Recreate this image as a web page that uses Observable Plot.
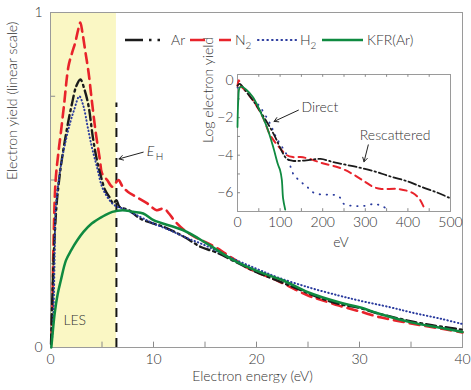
<!DOCTYPE html>
<html><head><meta charset="utf-8">
<script src="https://cdn.jsdelivr.net/npm/d3@7"></script>
<script src="https://cdn.jsdelivr.net/npm/@observablehq/plot@0.6"></script>
<style>
body{margin:0;background:#fff;}
#chart{position:relative;width:471px;height:390px;font-family:Lato,"Open Sans",sans-serif;}
#chart svg{position:absolute;left:0;top:0;overflow:visible;}
#chart svg text{font-weight:300;}
</style></head><body><div id="chart"></div>
<script>
// ---------- main panel data (linear yield vs eV) ----------
const arE = [0.05,0.2,0.4,0.6,0.8,1.0,1.3,1.7,2.1,2.5,2.9,3.3,3.7,4.1,4.5,4.9,5.3,5.7,6.1,6.4,6.7,7.6,8.7,10,11,13,14.6,16,18,20,22,24,26,28,30,32,34,36,38,40];
const arY = [0.01,0.17,0.33,0.43,0.49,0.54,0.6,0.67,0.73,0.78,0.80,0.77,0.72,0.63,0.56,0.51,0.47,0.45,0.43,0.44,0.42,0.41,0.385,0.37,0.36,0.33,0.30,0.285,0.255,0.225,0.2,0.175,0.15,0.13,0.118,0.1,0.085,0.072,0.062,0.053];
const n2E = [0.1,0.2,0.3,0.5,0.8,1.0,1.3,1.75,2.1,2.4,2.7,2.9,3.1,3.4,3.7,4.0,4.4,4.8,5.0,5.5,6.0,6.3,6.6,7.0,7.5,8.3,9.4,10.3,11,11.5,12,13,14,16,17,18,19,20,22,23,25,26,28,30,32,34,36,38,40];
const n2Y = [0.02,0.14,0.32,0.5,0.59,0.64,0.72,0.84,0.88,0.91,0.95,0.97,0.94,0.88,0.82,0.74,0.64,0.56,0.52,0.50,0.48,0.49,0.5,0.48,0.465,0.45,0.43,0.41,0.415,0.40,0.38,0.35,0.33,0.30,0.28,0.26,0.24,0.225,0.2,0.185,0.155,0.145,0.125,0.108,0.09,0.078,0.066,0.056,0.045];
const h2E = [0.15,0.3,0.4,0.5,0.8,1.1,1.5,1.9,2.3,2.8,3.2,3.6,4.0,4.5,5.0,5.5,6.0,6.5,7.0,8.7,10,11.6,13,15,17,20,22,25,28,30,33,35,38,40];
const h2Y = [0.02,0.12,0.27,0.41,0.5,0.56,0.62,0.67,0.71,0.75,0.72,0.66,0.6,0.54,0.48,0.45,0.43,0.42,0.415,0.39,0.37,0.35,0.33,0.305,0.275,0.235,0.21,0.18,0.155,0.14,0.12,0.105,0.085,0.07];
const kfrE = [0.08,0.2,0.4,0.7,1.0,1.5,2.0,2.6,3.2,4.0,5.0,6.0,7.0,8.0,9.0,10,12.9,15.2,17.8,20.4,22.6,25,28,30,32,35,38,40];
const kfrY = [0.0,0.04,0.1,0.16,0.2,0.26,0.29,0.32,0.345,0.37,0.39,0.405,0.41,0.405,0.40,0.38,0.35,0.31,0.26,0.224,0.2,0.165,0.135,0.12,0.1,0.075,0.058,0.046];
const lesRange = [0, 6.4];
const eH = 6.4, eHTop = 0.73;
const xMinor = [5,10,15,20,25,30,35];
const xLabels = [0,10,20,30,40];
const yMinor = [0.25,0.5,0.75];
const yLabels = [0,1];

// ---------- inset data (log10 yield vs eV) ----------
const inArE = [0,5,20,40,60,76,90,100,116,130,148,170,195,230,274,320,354,400,433,470,500];
const inArL = [-0.3,-0.2,-0.6,-1.2,-1.9,-2.5,-3.1,-3.6,-4.2,-4.3,-4.3,-4.25,-4.2,-4.4,-4.6,-4.85,-5.1,-5.4,-5.7,-6.0,-6.3];
const inN2E = [0,3,8,20,40,60,76,95,116,130,148,170,195,243,270,298,320,338,378,410,426,438];
const inN2L = [-0.3,0,-0.3,-0.6,-1.2,-2.0,-2.9,-3.5,-4.0,-4.1,-4.1,-4.2,-4.4,-4.7,-5.0,-5.4,-5.7,-5.8,-5.8,-6.0,-6.3,-6.8];
const inH2E = [0,10,20,36,52,76,92,116,131,148,164,179,200,219,238,250,274,298,321,338,354];
const inH2L = [-0.4,-0.4,-0.6,-1,-1.4,-2.3,-3.1,-4.0,-5.0,-5.4,-5.7,-6.0,-6.1,-6.1,-6.2,-6.6,-6.7,-6.7,-6.6,-6.7,-6.9];
const inKfrE = [0,2,5,10,20,36,52,69,83,95,100,104,107,112];
const inKfrL = [-2.5,-1.0,-0.4,-0.35,-0.5,-0.9,-1.6,-2.5,-3.5,-4.5,-4.8,-5.3,-6.3,-6.9];
const inXLabels = [0,100,200,300,400,500];
const inXMinor = [50,100,150,200,250,300,350,400,450];
const inYLabels = [0,-2,-4,-6];
const inYMinor = [-1,-2,-3,-4,-5,-6];

const colors = {ar:"#1b1b1b", n2:"#e8232b", h2:"#2a3b9e", kfr:"#0f8a40"};
const pts = (E, Y) => E.map((e, i) => ({e, v: Y[i]}));
const font = "Lato, 'Open Sans', sans-serif";
const ink = "#333";

const main = Plot.plot({
  width: 471, height: 390,
  marginLeft: 50, marginRight: 9, marginTop: 12, marginBottom: 43,
  style: {fontFamily: font, fontSize: "14px", color: ink, background: "transparent"},
  x: {domain: [0, 40]}, y: {domain: [0, 1]},
  marks: [
    Plot.rect([lesRange], {x1: d => d[0], x2: d => d[1], y1: 0, y2: 1, fill: "#faf7c4"}),
    Plot.ruleX(xMinor, {x: d => d, y1: 0, y2: 0.016, stroke: "#8a8a8a"}),
    Plot.ruleY(yMinor, {y: d => d, x1: 0, x2: 0.5, stroke: "#8a8a8a"}),
    Plot.axisX({ticks: xLabels, tickSize: 0, tickPadding: 7, label: null, fontSize: 14}),
    Plot.axisY({ticks: yLabels, tickSize: 0, tickPadding: 8, tickFormat: d => String(d), label: null, fontSize: 14}),
    Plot.frame({stroke: "#9a9a9a"}),
    Plot.text(["Electron yield (linear scale)"], {frameAnchor: "left", dx: -38, rotate: -90, text: d => d, fontSize: 14, fill: ink}),
    Plot.text(["Electron energy (eV)"], {frameAnchor: "bottom", dy: 33, dx: -4, text: d => d, fontSize: 14, fill: ink}),
    Plot.ruleX([eH], {x: d => d, y1: 0, y2: eHTop, stroke: "#151515", strokeWidth: 2, strokeDasharray: "9,6"}),
    Plot.line(pts(n2E, n2Y), {x: "e", y: "v", stroke: colors.n2, strokeWidth: 2.6, strokeDasharray: "10,6", curve: "catmull-rom"}),
    Plot.line(pts(arE, arY), {x: "e", y: "v", stroke: colors.ar, strokeWidth: 2.4, strokeDasharray: "10,4,2,4", curve: "catmull-rom"}),
    Plot.line(pts(h2E, h2Y), {x: "e", y: "v", stroke: colors.h2, strokeWidth: 2, strokeDasharray: "0.5,3", strokeLinecap: "round", curve: "catmull-rom"}),
    Plot.line(pts(kfrE, kfrY), {x: "e", y: "v", stroke: colors.kfr, strokeWidth: 2.5, curve: "catmull-rom"}),
    Plot.arrow([{x1: 9.0, y1: 0.583, x2: 6.65, y2: 0.563}], {x1: "x1", y1: "y1", x2: "x2", y2: "y2", stroke: "#222", strokeWidth: 1, headLength: 7}),
    Plot.text([{x: 9.35, y: 0.585}], {x: "x", y: "y", text: () => "E", fontStyle: "italic", textAnchor: "start", fontSize: 14, fill: "#222"}),
    Plot.text([{x: 9.35, y: 0.585}], {x: "x", y: "y", text: () => "H", textAnchor: "start", dx: 9, dy: 5, fontSize: 10, fill: "#222"}),
    Plot.text([{x: 1.25, y: 0.08}], {x: "x", y: "y", text: () => "LES", textAnchor: "start", fontSize: 14, fill: ink})
  ]
});

const inset = Plot.plot({
  width: 471, height: 390,
  marginLeft: 237, marginRight: 21, marginTop: 74, marginBottom: 179,
  style: {fontFamily: font, fontSize: "14px", color: ink, background: "transparent"},
  x: {domain: [0, 500]}, y: {domain: [-7, 0.3]},
  marks: [
    Plot.frame({fill: "white", stroke: "#9a9a9a"}),
    Plot.ruleX(inXMinor, {x: d => d, y1: -7, y2: -6.85, stroke: "#8a8a8a"}),
    Plot.ruleX(inXMinor, {x: d => d, y1: 0.3, y2: 0.15, stroke: "#8a8a8a"}),
    Plot.ruleY(inYMinor, {y: d => d, x1: 0, x2: 7, stroke: "#8a8a8a"}),
    Plot.axisX({ticks: inXLabels, tickSize: 0, tickPadding: 6, label: null, fontSize: 14}),
    Plot.axisY({ticks: inYLabels, tickSize: 0, tickPadding: 4, label: null, fontSize: 14}),
    Plot.text(["Log electron yield"], {frameAnchor: "left", dx: -29, rotate: -90, text: d => d, fontSize: 14, fill: ink}),
    Plot.text(["eV"], {frameAnchor: "bottom", dy: 35, dx: -3, text: d => d, fontSize: 14, fill: ink}),
    Plot.line(pts(inH2E, inH2L), {x: "e", y: "v", stroke: colors.h2, strokeWidth: 1.8, strokeDasharray: "0.5,6.5", strokeLinecap: "round", curve: "catmull-rom"}),
    Plot.line(pts(inN2E, inN2L), {x: "e", y: "v", stroke: colors.n2, strokeWidth: 2, strokeDasharray: "7,5", curve: "catmull-rom"}),
    Plot.line(pts(inArE, inArL), {x: "e", y: "v", stroke: colors.ar, strokeWidth: 1.8, strokeDasharray: "8,3,1.5,3", curve: "catmull-rom"}),
    Plot.line(pts(inKfrE, inKfrL), {x: "e", y: "v", stroke: colors.kfr, strokeWidth: 1.8, curve: "catmull-rom"}),
    Plot.arrow([{x1: 143, y1: -1.6, x2: 86, y2: -2.2}], {x1: "x1", y1: "y1", x2: "x2", y2: "y2", stroke: "#222", strokeWidth: 1, headLength: 7}),
    Plot.text([{x: 150, y: -1.45}], {x: "x", y: "y", text: () => "Direct", textAnchor: "start", fontSize: 14, fill: ink}),
    Plot.arrow([{x1: 307, y1: -3.45, x2: 297, y2: -4.35}], {x1: "x1", y1: "y1", x2: "x2", y2: "y2", stroke: "#222", strokeWidth: 1, headLength: 7}),
    Plot.text([{x: 370, y: -2.95}], {x: "x", y: "y", text: () => "Rescattered", fontSize: 14, fill: ink})
  ]
});

// ---------- legend ----------
const legendItems = [
  {name: "Ar", sub: "", color: colors.ar, dash: "18,6,2.5,6,2.5,50", width: 2.6, x: 125, len: 42, cap: "butt"},
  {name: "N", sub: "2", color: colors.n2, dash: "15,14,12,50", width: 2.6, x: 190, len: 41, cap: "butt"},
  {name: "H", sub: "2", color: colors.h2, dash: "0.5,4.2", width: 2.2, x: 258, len: 38, cap: "round"},
  {name: "KFR(Ar)", sub: "", color: colors.kfr, dash: null, width: 2.6, x: 322, len: 41, cap: "butt"}
];
const leg = d3.create("svg").attr("width", 471).attr("height", 390);
const g = leg.selectAll("g").data(legendItems).join("g");
g.append("line").attr("x1", d => d.x).attr("x2", d => d.x + d.len).attr("y1", 40).attr("y2", 40)
  .attr("stroke", d => d.color).attr("stroke-width", d => d.width)
  .attr("stroke-dasharray", d => d.dash).attr("stroke-linecap", d => d.cap);
const t = g.append("text").attr("x", d => d.x + d.len + 4).attr("y", 45)
  .attr("font-family", font).attr("font-size", 14).attr("fill", ink);
t.append("tspan").text(d => d.name);
t.append("tspan").attr("font-size", 10).attr("dy", 4).text(d => d.sub);

const root = document.getElementById("chart");
root.append(main);
root.append(inset);
root.append(leg.node());
</script></body></html>
